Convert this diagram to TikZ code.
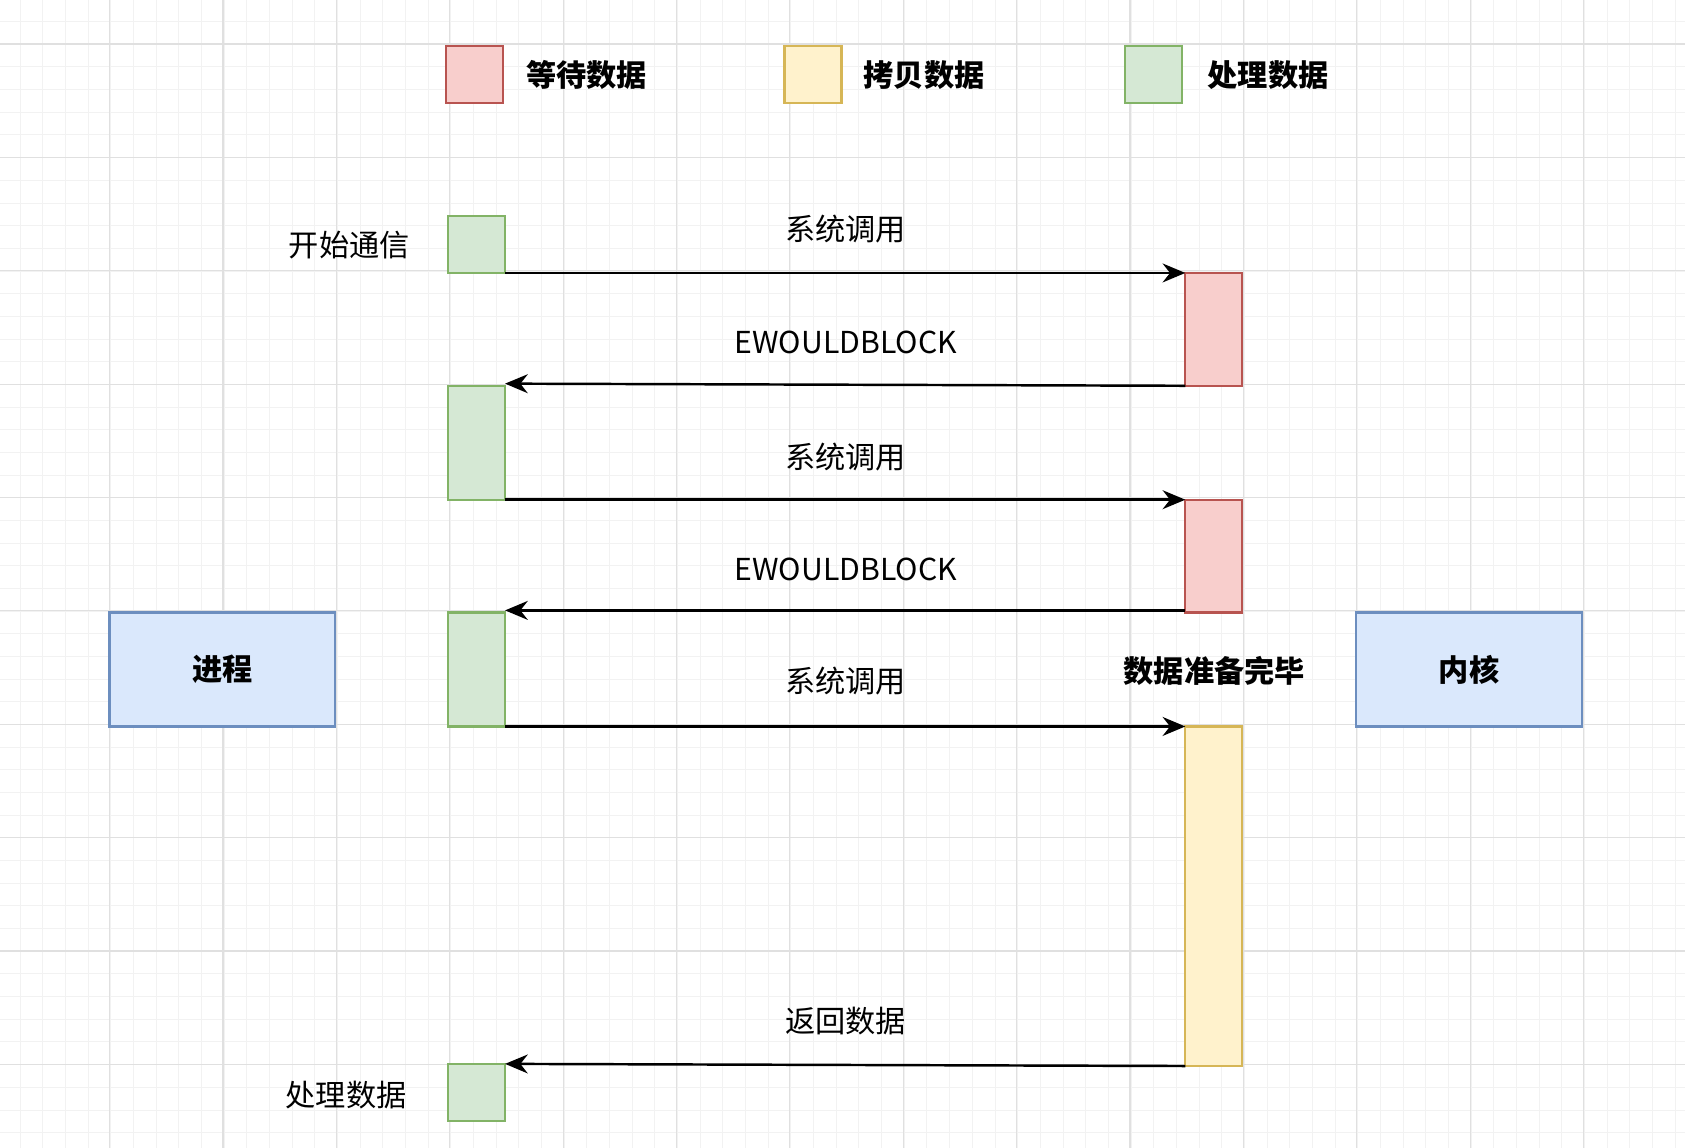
\documentclass[tikz,border=0pt]{standalone}
\usepackage{fontspec}
\setmainfont{Noto Sans CJK SC}
\usetikzlibrary{arrows.meta}
\begin{document}
\begin{tikzpicture}[x=0.02cm,y=-0.02cm,
  lbl/.style={font=\fontsize{16}{18}\selectfont},
  blbl/.style={font=\fontsize{16}{18}\selectfont\bfseries},
  arr/.style={-{Stealth[length=12pt,width=10pt]},line width=1.3pt},
]
\definecolor{gF}{HTML}{D5E8D4}\definecolor{gD}{HTML}{82B366}
\definecolor{rF}{HTML}{F8CECC}\definecolor{rD}{HTML}{B85450}
\definecolor{yF}{HTML}{FFF2CC}\definecolor{yD}{HTML}{D6B656}
\definecolor{bF}{HTML}{DAE8FC}\definecolor{bD}{HTML}{6C8EBF}
\tikzset{g/.style={draw=gD,fill=gF,line width=1.2pt},r/.style={draw=rD,fill=rF,line width=1.2pt},
 yy/.style={draw=yD,fill=yF,line width=1.2pt},bb/.style={draw=bD,fill=bF,line width=1.2pt}}
\useasboundingbox (0,0) rectangle (1568,1068);
\fill[white] (0,0) rectangle (1568,1068);
\foreach \i in {0,...,75} \draw[black!5,line width=0.4pt] ({18.5+\i*21.1},0) -- ++(0,1068);
\foreach \i in {0,...,51} \draw[black!5,line width=0.4pt] (0,{20+\i*21.1}) -- ++(1568,0);
\foreach \i in {0,...,15} \draw[black!12,line width=0.6pt] ({-3.5+\i*105.5},0) -- ++(0,1068);
\foreach \i in {0,...,10} \draw[black!12,line width=0.6pt] (0,{41+\i*105.5}) -- ++(1568,0);
% legend
\draw[r] (415,43) rectangle (468,96); \node[blbl] (l1) at (546,70) {等待数据};
\draw[yy] (730,43) rectangle (783,96); \node[blbl] (l2) at (860,70) {拷贝数据};
\draw[g] (1047,43) rectangle (1100,96); \node[blbl] (l3) at (1180,70) {处理数据};
% boxes
\path[g] (417,201) rectangle (470,254);
\path[g] (417,359) rectangle (470,465);
\path[g] (417,570) rectangle (470,676);
\path[g] (417,990) rectangle (470,1043);
\path[r] (1103,254) rectangle (1156,359);
\path[r] (1103,465) rectangle (1156,570);
\path[yy] (1103,676) rectangle (1156,992);
\draw[bb] (102,570) rectangle (312,676); \node[blbl] (p) at (207,623) {进程};
\draw[bb] (1262,570) rectangle (1472,676); \node[blbl] (k) at (1367,623) {内核};
\coordinate (a1) at (470,254); \coordinate (b1) at (1103,254);
\coordinate (a2) at (1103,359); \coordinate (b2) at (470,357);
\coordinate (a3) at (470,465); \coordinate (b3) at (1103,465);
\coordinate (a4) at (1103,568); \coordinate (b4) at (470,568);
\coordinate (a5) at (470,676); \coordinate (b5) at (1103,676);
\coordinate (a6) at (1103,992); \coordinate (b6) at (470,990);
\foreach \n in {1,...,6} \draw[arr] (a\n) -- (b\n);
\node[lbl] at (787,213) {系统调用};
\node[lbl] at (787,319) {EWOULDBLOCK};
\node[lbl] at (787,425) {系统调用};
\node[lbl] at (787,530) {EWOULDBLOCK};
\node[lbl] at (787,634) {系统调用};
\node[lbl] at (787,950) {返回数据};
\node[blbl] at (1130,624) {数据准备完毕};
\node[lbl] at (325,228) {开始通信};
\node[lbl] at (322,1019) {处理数据};
\end{tikzpicture}
\end{document}
